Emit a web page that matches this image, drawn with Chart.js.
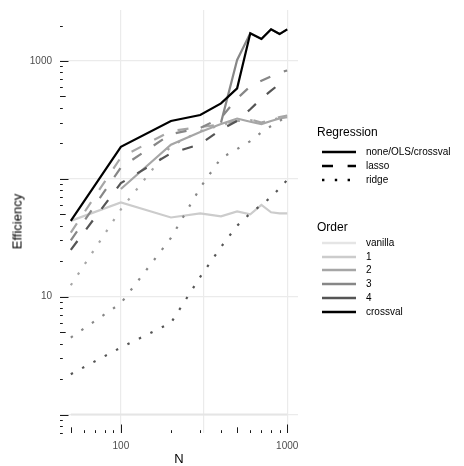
<!DOCTYPE html>
<html>
<head>
<meta charset="utf-8">
<script src="https://cdn.jsdelivr.net/npm/chart.js@4.4.1/dist/chart.umd.min.js"></script>
<style>
  body { margin: 0; background: #fff; font-family: "Liberation Sans", Arial, sans-serif; }
  #wrap { position: relative; width: 464px; height: 466px; overflow: hidden; }
  .lbl { position: absolute; white-space: nowrap; line-height: 1; color: #000; }
  .key { position: absolute; line-height: 0; }
  .key svg { display: block; }
</style>
</head>
<body>
<div id="wrap">
  <canvas id="chart" width="464" height="466"></canvas>
  <div class="lbl" style="left:-33px; top:215px; width:100px; text-align:center; font-size:13px; transform:rotate(-90deg);">Efficiency</div>
  <div class="lbl" style="left:129px; top:452px; width:100px; text-align:center; font-size:13px;">N</div>
  <div id="legend"></div>
</div>
<script>
// sample sizes
const sampleSizes = [50, 100, 200, 300, 400, 500, 600, 700, 800, 900, 1000];

// regression = none/OLS/crossval
const noneVanilla  = [1, 1, 1, 1, 1, 1, 1, 1, 1, 1, 1];
const noneOrder1   = [44, 63, 47, 51, 48, 53, 50, 60, 52, 51, 51];
const noneOrder2   = [null, 82, 195, 250, 292, 325, 305, 292, 310, 325, 333];
const noneOrder3   = [null, null, null, null, 300, 1020, 1718, 1537, 1858, 1693, 1858];
const noneCrossval = [44, 187, 310, 348, 437, 586, 1718, 1537, 1858, 1693, 1858];

// regression = lasso
const lassoOrder2 = [35, 152, 255, 275, 290, 310, 320, 300, 320, 335, 345];
const lassoOrder3 = [30, 125, 240, 270, 330, 480, 610, 680, 740, 800, 830];
const lassoOrder4 = [25, 92, 165, 197, 262, 310, 390, 480, 560, 640, 700];

// regression = ridge
const ridgeOrder2 = [12.5, 55, 190, 255, 285, 310, 315, 300, 315, 330, 340];
const ridgeOrder3 = [4.5, 8.8, 31.5, 84, 150, 179, 209, 248, 281, 310, 341];
const ridgeOrder4 = [2.2, 3.7, 6.0, 14.7, 26.4, 40, 51, 60, 70, 83, 98];

// axis ticks
const xTickValues = [100, 316.2278, 1000];
const xTickLabels = ['100', '', '1000'];
const yTickValues = [1, 10, 100, 1000];
const yTickLabels = ['', '10', '', '1000'];

// legends
const regressionLabels = ['none/OLS/crossval', 'lasso', 'ridge'];
const orderLabels = ['vanilla', '1', '2', '3', '4', 'crossval'];

const greys = {
    vanilla: '#e5e5e5',
    '1': '#cccccc',
    '2': '#a6a6a6',
    '3': '#878787',
    '4': '#555555',
    crossval: '#000000'
};
const dashes = {
    'none/OLS/crossval': [],
    lasso: [11, 14.6],
    ridge: [2.4, 10.4]
};

function series(values, order, regression) {
    return {
        data: values.map((v, i) => ({x: sampleSizes[i], y: v})),
        borderColor: greys[order],
        borderDash: dashes[regression],
        borderWidth: 2.2,
        borderCapStyle: 'butt',
        pointRadius: 0,
        fill: false,
        tension: 0,
        spanGaps: false
    };
}

// first dataset is drawn on top
const datasets = [
    series(noneCrossval, 'crossval', 'none/OLS/crossval'),
    series(ridgeOrder4, '4', 'ridge'),
    series(lassoOrder4, '4', 'lasso'),
    series(noneOrder3, '3', 'none/OLS/crossval'),
    series(ridgeOrder3, '3', 'ridge'),
    series(lassoOrder3, '3', 'lasso'),
    series(noneOrder2, '2', 'none/OLS/crossval'),
    series(ridgeOrder2, '2', 'ridge'),
    series(lassoOrder2, '2', 'lasso'),
    series(noneOrder1, '1', 'none/OLS/crossval'),
    series(noneVanilla, 'vanilla', 'none/OLS/crossval')
];

// log ticks along left and bottom edge of the panel
const logTicks = {
    id: 'logTicks',
    afterDatasetsDraw(chart) {
        const {ctx, chartArea: a, scales: {x, y}} = chart;
        const len = m => m === 1 ? 8.5 : (m === 5 ? 5.7 : 2.8);
        ctx.save();
        ctx.strokeStyle = '#1a1a1a';
        ctx.lineWidth = 1;
        ctx.beginPath();
        for (let e = -1; e <= 3; e++) {
            for (let m = 1; m <= 9; m++) {
                const v = m * Math.pow(10, e);
                if (v >= y.min && v <= y.max) {
                    const py = Math.round(y.getPixelForValue(v)) + 0.5;
                    ctx.moveTo(a.left, py);
                    ctx.lineTo(a.left + len(m), py);
                }
                if (v >= x.min && v <= x.max) {
                    const px = Math.round(x.getPixelForValue(v)) + 0.5;
                    ctx.moveTo(px, a.bottom);
                    ctx.lineTo(px, a.bottom - len(m));
                }
            }
        }
        ctx.stroke();
        ctx.restore();
    }
};

const tickFont = {family: '"Liberation Sans", Arial, sans-serif', size: 10};

new Chart(document.getElementById('chart'), {
    type: 'line',
    data: {datasets: datasets},
    options: {
        responsive: false,
        animation: false,
        layout: {padding: {left: 0, top: 10, right: 166, bottom: 0}},
        scales: {
            x: {
                type: 'logarithmic',
                min: Math.pow(10, 1.634),
                max: Math.pow(10, 3.065),
                afterBuildTicks: s => { s.ticks = xTickValues.map(v => ({value: v})); },
                afterFit: s => { s.height = 33; s.paddingLeft = 0; s.paddingRight = 0; },
                border: {display: false},
                grid: {color: '#ebebeb', lineWidth: 1.2, drawTicks: false},
                ticks: {
                    autoSkip: false,
                    maxRotation: 0,
                    padding: 7,
                    color: '#4d4d4d',
                    font: tickFont,
                    callback: (v, i) => xTickLabels[i]
                }
            },
            y: {
                type: 'logarithmic',
                min: Math.pow(10, -0.157),
                max: Math.pow(10, 3.433),
                afterBuildTicks: s => { s.ticks = yTickValues.map(v => ({value: v})); },
                afterFit: s => { s.width = 60; s.paddingTop = 0; s.paddingBottom = 0; },
                border: {display: false},
                grid: {color: '#ebebeb', lineWidth: 1.2, drawTicks: false},
                ticks: {
                    autoSkip: false,
                    padding: 8,
                    color: '#4d4d4d',
                    font: tickFont,
                    callback: (v, i) => yTickLabels[i]
                }
            }
        },
        plugins: {
            legend: {display: false},
            tooltip: {enabled: false}
        }
    },
    plugins: [logTicks]
});

// legends (two guides: line type and grey level)
function keySvg(color, dash) {
    return '<svg width="34" height="6"><line x1="0" y1="3" x2="34" y2="3" stroke="' + color +
        '" stroke-width="2.4" stroke-dasharray="' + (dash.length ? dash.join(' ') : 'none') + '"/></svg>';
}
let html = '<div class="lbl" style="left:317px; top:126px; font-size:12px;">Regression</div>';
regressionLabels.forEach((lab, i) => {
    const cy = 152 + i * 14;
    html += '<div class="key" style="left:322px; top:' + (cy - 3) + 'px;">' + keySvg('#000', dashes[lab]) + '</div>';
    html += '<div class="lbl" style="left:366px; top:' + (cy - 5) + 'px; font-size:10px;">' + lab + '</div>';
});
html += '<div class="lbl" style="left:317px; top:221px; font-size:12px;">Order</div>';
orderLabels.forEach((lab, i) => {
    const cy = 243 + i * 13.7;
    html += '<div class="key" style="left:322px; top:' + (cy - 3) + 'px;">' + keySvg(greys[lab], []) + '</div>';
    html += '<div class="lbl" style="left:366px; top:' + (cy - 5) + 'px; font-size:10px;">' + lab + '</div>';
});
document.getElementById('legend').innerHTML = html;
</script>
</body>
</html>
